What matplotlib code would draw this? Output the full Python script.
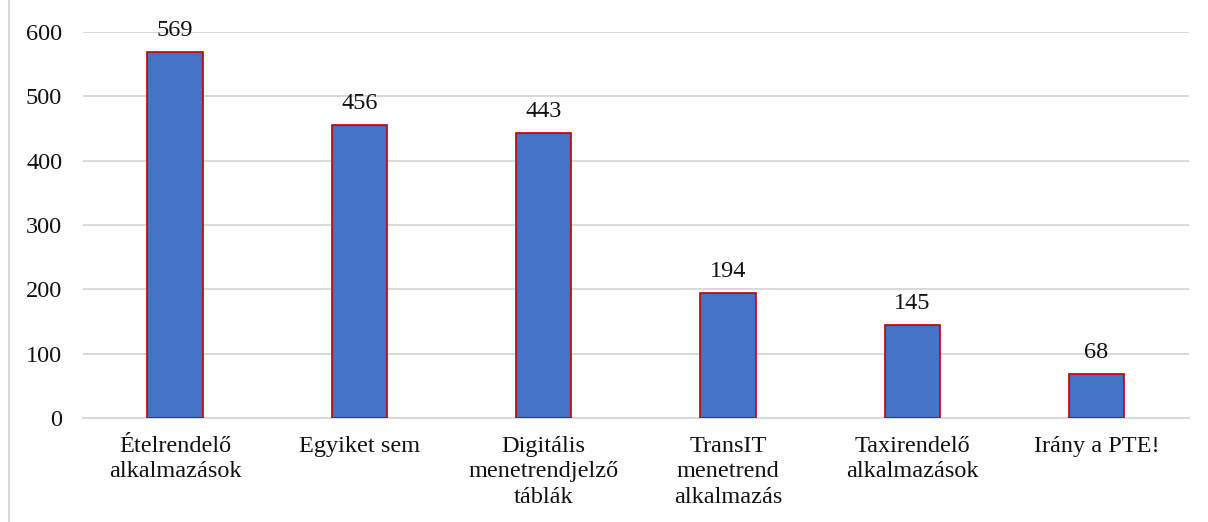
import matplotlib
matplotlib.use('Agg')
from matplotlib import pyplot as plt
from matplotlib.lines import Line2D

# data
categories = ['Ételrendelő\nalkalmazások', 'Egyiket sem', 'Digitális\nmenetrendjelző\ntáblák',
              'TransIT\nmenetrend\nalkalmazás', 'Taxirendelő\nalkalmazások', 'Irány a PTE!']
values = [569, 456, 443, 194, 145, 68]
yticks = [0, 100, 200, 300, 400, 500, 600]

bar_blue = '#4472C4'
bar_edge = '#C00000'
grid_gray = '#D9D9D9'
fs = 17.5

plt.rcParams['font.family'] = ['Liberation Serif', 'DejaVu Serif']

fig = plt.figure(figsize=(12.08, 5.22), dpi=100)
fig.patch.set_facecolor('white')
ax = fig.add_axes([0.0687, 0.199, 0.9153, 0.7397])

x = list(range(len(categories)))
bars = ax.bar(x, values, width=0.30, color=bar_blue, edgecolor=bar_edge, linewidth=1.2, zorder=3)
for xi, v in zip(x, values):
    ax.annotate(str(v), (xi, v), xytext=(0, 8), textcoords='offset points',
                ha='center', va='bottom', fontsize=fs, color='#111111')

ax.set_xlim(-0.5, len(categories) - 0.5)
ax.set_ylim(0, 600)
ax.set_yticks(yticks)
ax.set_yticklabels([str(t) for t in yticks], fontsize=fs, color='#111111')
ax.set_xticks(x)
ax.set_xticklabels(categories, fontsize=fs, color='#111111', linespacing=1.27, va='top')
ax.tick_params(length=0)
ax.tick_params(axis='x', pad=13)
ax.tick_params(axis='y', pad=15)
ax.yaxis.grid(True, color=grid_gray, linewidth=1.5, zorder=0)
ax.set_axisbelow(True)
for s in ['top', 'right', 'left']:
    ax.spines[s].set_visible(False)
ax.spines['bottom'].set_color(grid_gray)
ax.spines['bottom'].set_linewidth(1.5)

# chart area border on the left
fig.add_artist(Line2D([9 / 1208, 9 / 1208], [0, 1], color=grid_gray, linewidth=1.5))

fig.savefig('out.png', dpi=100)
